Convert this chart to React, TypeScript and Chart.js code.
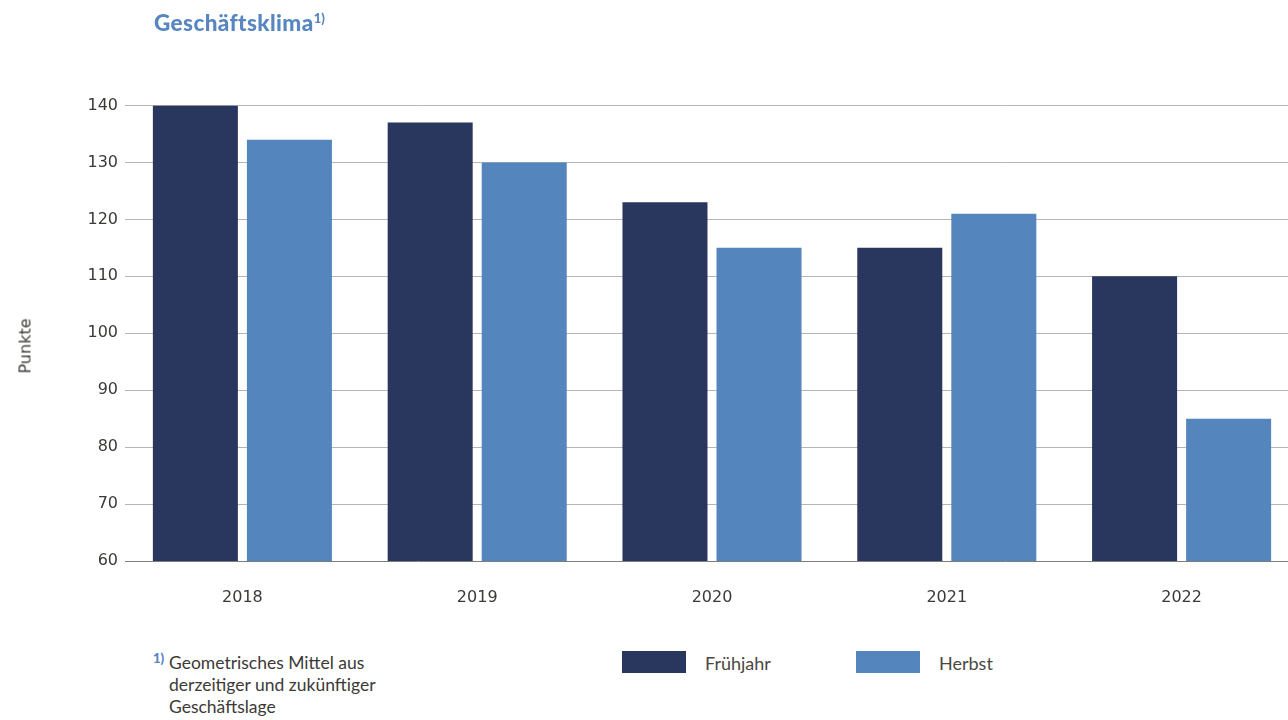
import React, { useEffect, useRef } from "react";
import { Chart, registerables } from "chart.js";

Chart.register(...registerables);

const YEARS = ["2018", "2019", "2020", "2021", "2022"];
const SERIES_NAMES = ["Frühjahr", "Herbst"];
const FRUEHJAHR = [140, 137, 123, 115, 110];
const HERBST = [134, 130, 115, 121, 85];
const SERIES_COLORS = ["#29365e", "#5585bd"];
const Y_MIN = 60;
const Y_MAX = 140;
const Y_STEP = 10;

const TEXT_COLOR = "#3c3a36";

export default function App() {
  const canvasRef = useRef<HTMLCanvasElement | null>(null);

  useEffect(() => {
    const canvas = canvasRef.current;
    if (!canvas) return;
    const chart = new Chart(canvas, {
      type: "bar",
      data: {
        labels: YEARS,
        datasets: [
          {
            label: SERIES_NAMES[0],
            data: FRUEHJAHR,
            backgroundColor: SERIES_COLORS[0],
            borderWidth: 0,
            categoryPercentage: 0.801,
            barPercentage: 0.904,
          },
          {
            label: SERIES_NAMES[1],
            data: HERBST,
            backgroundColor: SERIES_COLORS[1],
            borderWidth: 0,
            categoryPercentage: 0.801,
            barPercentage: 0.904,
          },
        ],
      },
      options: {
        responsive: false,
        animation: false,
        devicePixelRatio: 1,
        layout: { padding: { top: 105.5, left: 0, right: 0, bottom: 0 } },
        plugins: {
          legend: { display: false },
          tooltip: { enabled: false },
          title: { display: false },
        },
        scales: {
          x: {
            grid: { display: false, drawTicks: false },
            border: { display: false },
            ticks: {
              padding: 27,
              color: TEXT_COLOR,
              font: { family: "'DejaVu Sans', sans-serif", size: 16 },
            },
            afterFit: (s: any) => {
              s.height = 59;
            },
          },
          y: {
            min: Y_MIN,
            max: Y_MAX,
            ticks: {
              stepSize: Y_STEP,
              padding: 7,
              color: TEXT_COLOR,
              font: { family: "'DejaVu Sans', sans-serif", size: 16 },
            },
            grid: {
              drawTicks: false,
              lineWidth: 1,
              color: (ctx: any) => (ctx.tick && ctx.tick.value === Y_MIN ? "#7d7d7d" : "#b5b5b5"),
            },
            border: { display: false },
            afterFit: (s: any) => {
              s.width = 125;
            },
          },
        },
      },
    });
    return () => chart.destroy();
  }, []);

  return (
    <div
      style={{
        position: "absolute",
        left: 0,
        top: 0,
        width: 1288,
        height: 720,
        overflow: "hidden",
        background: "#ffffff",
      }}
    >
      <canvas
        ref={canvasRef}
        width={1299}
        height={620}
        style={{ position: "absolute", left: 0, top: 0, width: 1299, height: 620 }}
      />
      <div
        style={{
          position: "absolute",
          left: 154,
          top: 8,
          fontFamily: "Lato, sans-serif",
          fontWeight: 900,
          fontSize: 22.5,
          letterSpacing: 0.4,
          color: "#5786c0",
          whiteSpace: "nowrap",
          lineHeight: "30px",
        }}
      >
        Geschäftsklima
        <span style={{ fontSize: 13, position: "relative", top: -8, letterSpacing: 0 }}>1)</span>
      </div>
      <div
        style={{
          position: "absolute",
          left: 24.5,
          top: 345.5,
          transform: "translate(-50%, -50%) rotate(-90deg)",
          fontFamily: "'DejaVu Sans', sans-serif",
          fontSize: 16,
          color: TEXT_COLOR,
          whiteSpace: "nowrap",
        }}
      >
        Punkte
      </div>
      <div
        style={{
          position: "absolute",
          left: 153,
          top: 651,
          fontFamily: "Lato, sans-serif",
          fontWeight: 900,
          fontSize: 13,
          color: "#5786c0",
          lineHeight: "14px",
        }}
      >
        1)
      </div>
      <div
        style={{
          position: "absolute",
          left: 169,
          top: 652,
          fontFamily: "Lato, sans-serif",
          fontSize: 17.5,
          lineHeight: "22px",
          color: TEXT_COLOR,
          whiteSpace: "nowrap",
        }}
      >
        Geometrisches Mittel aus
        <br />
        derzeitiger und zukünftiger
        <br />
        Geschäftslage
      </div>
      {SERIES_NAMES.map((name, i) => (
        <div key={name}>
          <div
            style={{
              position: "absolute",
              left: i === 0 ? 622 : 856,
              top: 651,
              width: 64,
              height: 22,
              background: SERIES_COLORS[i],
            }}
          />
          <div
            style={{
              position: "absolute",
              left: i === 0 ? 705 : 939,
              top: 651,
              fontFamily: "Lato, sans-serif",
              fontSize: 18,
              lineHeight: "24px",
              color: "#4a4843",
              whiteSpace: "nowrap",
            }}
          >
            {name}
          </div>
        </div>
      ))}
    </div>
  );
}
